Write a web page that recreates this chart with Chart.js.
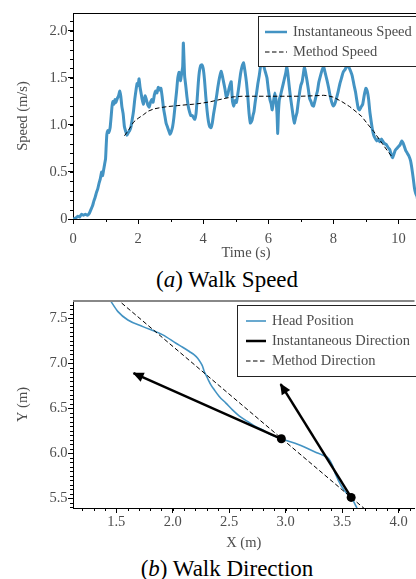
<!DOCTYPE html>
<html>
<head>
<meta charset="utf-8">
<script src="https://cdn.jsdelivr.net/npm/chart.js@4.4.1/dist/chart.umd.min.js"></script>
<style>
  html, body { margin: 0; padding: 0; background: #fff; }
  body { width: 416px; height: 579px; overflow: hidden; position: relative; font-family: "Liberation Serif", serif; }
  .panel { position: absolute; left: 0; width: 416px; height: 262px; overflow: hidden; }
  .caption { position: absolute; left: 0; width: 454px; text-align: center; font-size: 23px; line-height: 23px; color: #000; white-space: nowrap; }
</style>
</head>
<body>
<div class="panel" style="top:0"><canvas id="speedChart" width="419" height="262"></canvas></div>
<div class="caption" style="top:268px">(<i>a</i>) Walk Speed</div>
<div class="panel" style="top:290px"><canvas id="dirChart" width="419" height="262"></canvas></div>
<div class="caption" style="top:557px">(<i>b</i>) Walk Direction</div>
<script>
// (a) walk speed
const timeS = [0.00,0.08,0.15,0.20,0.26,0.32,0.38,0.44,0.50,0.55,0.60,0.64,0.68,0.72,0.76,0.80,0.84,0.88,0.91,0.94,
  0.97,1.00,1.02,1.04,1.07,1.10,1.14,1.17,1.20,1.23,1.26,1.29,1.32,1.36,1.40,1.44,1.47,1.50,1.54,1.58,
  1.62,1.66,1.70,1.74,1.78,1.82,1.86,1.90,1.94,1.97,2.00,2.03,2.06,2.09,2.12,2.16,2.19,2.22,2.26,2.30,
  2.34,2.38,2.42,2.46,2.50,2.54,2.58,2.62,2.66,2.70,2.74,2.78,2.82,2.86,2.90,2.94,2.98,3.02,3.06,3.10,
  3.14,3.18,3.22,3.26,3.30,3.34,3.37,3.39,3.41,3.43,3.47,3.50,3.54,3.58,3.62,3.66,3.70,3.74,3.78,3.82,
  3.85,3.88,3.92,3.96,4.00,4.04,4.08,4.12,4.16,4.20,4.24,4.28,4.32,4.36,4.40,4.45,4.50,4.55,4.59,4.63,
  4.67,4.71,4.75,4.79,4.82,4.86,4.90,4.94,4.98,5.02,5.06,5.10,5.15,5.20,5.24,5.28,5.33,5.37,5.41,5.45,
  5.50,5.53,5.56,5.60,5.64,5.68,5.72,5.76,5.80,5.84,5.88,5.92,5.96,6.00,6.05,6.09,6.12,6.16,6.20,6.24,
  6.27,6.29,6.31,6.34,6.38,6.42,6.46,6.50,6.54,6.57,6.60,6.64,6.68,6.72,6.76,6.80,6.84,6.88,6.92,6.96,
  7.00,7.04,7.08,7.11,7.15,7.19,7.23,7.27,7.31,7.35,7.39,7.43,7.47,7.51,7.55,7.60,7.65,7.70,7.75,7.80,
  7.85,7.90,7.95,8.00,8.05,8.10,8.15,8.20,8.25,8.30,8.36,8.42,8.48,8.53,8.58,8.63,8.68,8.72,8.76,8.80,
  8.85,8.90,8.95,9.00,9.04,9.08,9.12,9.16,9.20,9.24,9.28,9.33,9.38,9.43,9.48,9.53,9.58,9.63,9.68,9.73,
  9.78,9.82,9.86,9.90,9.95,10.00,10.05,10.10,10.14,10.18,10.22,10.27,10.32,10.37,10.41,10.45,10.49,10.53,10.57,10.61,
  10.65];
const speedMs = [0.00,0.01,0.03,0.02,0.05,0.04,0.05,0.04,0.06,0.10,0.14,0.19,0.23,0.28,0.32,0.38,0.43,0.50,0.46,0.52,
  0.58,0.64,0.78,0.90,0.94,0.92,0.97,1.08,1.20,1.25,1.22,1.27,1.24,1.28,1.31,1.36,1.30,1.20,1.12,0.98,
  0.93,0.89,0.92,0.94,0.98,1.06,1.15,1.28,1.38,1.44,1.42,1.49,1.40,1.34,1.28,1.22,1.27,1.31,1.26,1.21,
  1.19,1.24,1.27,1.24,1.32,1.36,1.34,1.40,1.37,1.39,1.30,1.18,1.10,1.02,0.98,0.94,0.90,0.93,0.98,1.08,
  1.22,1.35,1.50,1.56,1.47,1.55,1.62,1.87,1.70,1.52,1.40,1.30,1.20,1.14,1.10,1.10,1.08,1.06,1.12,1.30,
  1.45,1.56,1.63,1.64,1.60,1.48,1.30,1.15,1.04,0.98,0.97,1.02,1.12,1.20,1.28,1.40,1.50,1.57,1.52,1.45,
  1.38,1.30,1.32,1.38,1.42,1.46,1.25,1.20,1.26,1.24,1.32,1.42,1.55,1.63,1.66,1.58,1.45,1.30,1.12,1.02,
  1.05,1.10,1.14,1.25,1.34,1.44,1.52,1.62,1.69,1.66,1.60,1.55,1.50,1.38,1.27,1.22,1.16,1.25,1.34,1.25,
  1.10,0.91,1.12,1.27,1.32,1.38,1.44,1.50,1.56,1.62,1.55,1.42,1.30,1.20,1.10,1.02,1.08,1.13,1.24,1.34,
  1.42,1.46,1.55,1.62,1.55,1.47,1.38,1.28,1.25,1.21,1.20,1.25,1.31,1.36,1.45,1.52,1.58,1.62,1.55,1.48,
  1.40,1.31,1.24,1.20,1.23,1.29,1.36,1.44,1.50,1.56,1.59,1.63,1.61,1.57,1.52,1.43,1.35,1.26,1.18,1.16,
  1.19,1.22,1.32,1.39,1.36,1.28,1.14,1.04,0.95,0.89,0.86,0.83,0.85,0.82,0.85,0.82,0.80,0.79,0.76,0.74,
  0.68,0.65,0.69,0.73,0.75,0.77,0.79,0.83,0.81,0.77,0.73,0.70,0.67,0.62,0.54,0.44,0.33,0.27,0.24,0.14,
  0.08];
const methodTimeS = [1.58,1.70,1.86,2.00,2.17,2.30,2.48,2.70,2.90,3.20,3.50,3.70,3.93,4.20,4.45,4.70,4.96,5.20,
  5.50,6.00,6.50,7.00,7.40,7.70,7.84,8.00,8.25,8.50,8.70,8.87,9.05,9.24,9.49,9.65,9.78];
const methodSpeedMs = [0.885,0.94,1.03,1.07,1.11,1.145,1.17,1.185,1.195,1.205,1.215,1.22,1.23,1.245,1.265,1.285,1.30,1.305,
  1.305,1.305,1.305,1.305,1.31,1.315,1.31,1.295,1.25,1.195,1.14,1.09,1.01,0.93,0.807,0.73,0.67];
const timeTicks = [0, 2, 4, 6, 8, 10];
const speedTicks = [0, 0.5, 1.0, 1.5, 2.0];

// (b) walk direction
const headX = [1.45,1.515,1.603,1.735,1.912,2.029,2.088,2.147,2.191,2.221,2.25,2.265,2.279,2.294,2.315,2.338,2.368,2.412,
  2.471,2.529,2.588,2.662,2.72,2.794,2.853,2.962,3.118,3.265,3.33,3.383,3.415,3.44,3.495,3.55,3.58,3.632];
const headY = [7.693,7.574,7.481,7.407,7.315,7.222,7.178,7.13,7.093,7.056,7.0,6.963,6.907,6.87,6.815,6.759,6.704,6.63,
  6.556,6.481,6.415,6.352,6.304,6.259,6.215,6.159,6.093,6.01,5.975,5.935,5.86,5.77,5.63,5.54,5.507,5.389];
const methodDirX = [1.50, 3.70];
const methodDirY = [7.72, 5.379];
const arrowFromX = [2.962, 3.58];
const arrowFromY = [6.159, 5.507];
const arrowToX = [1.653, 2.956];
const arrowToY = [6.889, 6.767];
const posXTicks = [1.5, 2.0, 2.5, 3.0, 3.5, 4.0];
const posYTicks = [5.5, 6.0, 6.5, 7.0, 7.5];

const BLUE = '#4393c3';
const GREY = '#4d4d4d';
const FONT = { family: '"Liberation Serif", serif', size: 14.5 };

const pairs = (xs, ys) => xs.map((x, i) => ({ x: x, y: ys[i] }));

// top frame line (right side is cut off in the original)
const frame = {
  id: 'frame',
  afterDatasetsDraw(chart, args, o) {
    const { ctx, chartArea: a } = chart;
    ctx.save();
    ctx.strokeStyle = o.color;
    ctx.lineWidth = o.width;
    ctx.beginPath();
    ctx.moveTo(a.left, a.top + (o.width % 2 ? 0.5 : 0));
    ctx.lineTo(a.right, a.top + (o.width % 2 ? 0.5 : 0));
    ctx.stroke();
    ctx.restore();
  }
};

const minorTicks = {
  id: 'minorTicks',
  afterDraw(chart, args, o) {
    const { ctx, chartArea: a, scales } = chart;
    ctx.save();
    ctx.strokeStyle = '#000';
    ctx.lineWidth = 1;
    ctx.beginPath();
    const nx = Math.round((o.x.to - o.x.from) / o.x.step);
    for (let i = 0; i <= nx; i++) {
      const px = Math.round(scales.x.getPixelForValue(o.x.from + i * o.x.step)) + 0.5;
      if (px < a.left || px > a.right) continue;
      ctx.moveTo(px, a.bottom);
      ctx.lineTo(px, a.bottom + o.len);
    }
    const ny = Math.round((o.y.to - o.y.from) / o.y.step);
    for (let i = 0; i <= ny; i++) {
      const py = Math.round(scales.y.getPixelForValue(o.y.from + i * o.y.step)) + 0.5;
      if (py < a.top || py > a.bottom) continue;
      ctx.moveTo(a.left, py);
      ctx.lineTo(a.left - o.len, py);
    }
    ctx.stroke();
    ctx.restore();
  }
};

// matplotlib-like legend box in the upper right
const boxLegend = {
  id: 'boxLegend',
  afterDraw(chart, args, o) {
    const ctx = chart.ctx;
    ctx.save();
    ctx.fillStyle = '#fff';
    ctx.fillRect(o.left, o.top, o.width, o.height);
    ctx.strokeStyle = '#222';
    ctx.lineWidth = 1;
    ctx.strokeRect(o.left + 0.5, o.top + 0.5, o.width, o.height);
    ctx.font = FONT.size + 'px ' + FONT.family;
    ctx.textBaseline = 'middle';
    o.items.forEach((idx, i) => {
      const ds = chart.data.datasets[idx];
      const y = o.top + o.firstRow + i * o.rowGap;
      ctx.beginPath();
      ctx.setLineDash(ds.borderDash || []);
      ctx.strokeStyle = ds.borderColor;
      ctx.lineWidth = Math.min(ds.borderWidth, 2.5);
      ctx.moveTo(o.lineX0, y);
      ctx.lineTo(o.lineX1, y);
      ctx.stroke();
      ctx.setLineDash([]);
      ctx.fillStyle = GREY;
      ctx.fillText(ds.label, o.textX, y);
    });
    ctx.restore();
  }
};

const arrowHeads = {
  id: 'arrowHeads',
  afterDatasetsDraw(chart) {
    const ctx = chart.ctx;
    chart.data.datasets.forEach((ds, i) => {
      if (!ds.arrow) return;
      const pts = chart.getDatasetMeta(i).data;
      const a = pts[pts.length - 2], b = pts[pts.length - 1];
      const ang = Math.atan2(b.y - a.y, b.x - a.x);
      ctx.save();
      ctx.translate(b.x, b.y);
      ctx.rotate(ang);
      ctx.beginPath();
      ctx.moveTo(1, 0);
      ctx.lineTo(-10, 5);
      ctx.lineTo(-10, -5);
      ctx.closePath();
      ctx.fillStyle = ds.borderColor;
      ctx.fill();
      ctx.restore();
    });
  }
};

function axis(min, max, tickVals, fmt, pad, extra) {
  return Object.assign({
    type: 'linear',
    min: min,
    max: max,
    afterBuildTicks: s => { s.ticks = tickVals.map(v => ({ value: v })); },
    ticks: { color: GREY, font: FONT, autoSkip: false, maxRotation: 0, padding: pad, callback: fmt },
    grid: { display: true, drawOnChartArea: false, drawTicks: true, tickLength: 5, tickColor: '#000', tickWidth: 1 },
    border: { display: true, color: '#000', width: 1 }
  }, extra);
}

new Chart(document.getElementById('speedChart'), {
  type: 'scatter',
  data: {
    datasets: [
      { label: 'Method Speed', data: pairs(methodTimeS, methodSpeedMs), showLine: true,
        borderColor: '#000', borderWidth: 1, borderDash: [4.5, 2.5], pointRadius: 0 },
      { label: 'Instantaneous Speed', data: pairs(timeS, speedMs), showLine: true,
        borderColor: BLUE, borderWidth: 3, pointRadius: 0, tension: 0.15 }
    ]
  },
  options: {
    responsive: false, animation: false, events: [],
    layout: { padding: { top: 13, left: 14, right: 0, bottom: 0 } },
    plugins: {
      legend: { display: false }, tooltip: { enabled: false },
      frame: { color: '#000', width: 1 },
      minorTicks: { len: 3, x: { from: 0, to: 10, step: 1 }, y: { from: 0, to: 2.1, step: 0.1 } },
      boxLegend: { left: 258, top: 16, width: 180, height: 50, firstRow: 16, rowGap: 20, lineX0: 265, lineX1: 287, textX: 293, items: [1, 0] }
    },
    scales: {
      x: axis(0, 10.63, timeTicks, v => String(v), 6, {
        afterFit: s => { s.height = 43; },
        title: { display: true, text: 'Time (s)', color: GREY, font: FONT, padding: { top: 0, bottom: 0 } }
      }),
      y: axis(0, 2.19, speedTicks, v => (v === 0 ? '0' : v.toFixed(1)), 0.5, {
        afterFit: s => { s.width = 59; },
        title: { display: true, text: 'Speed (m/s)', color: GREY, font: FONT, padding: { top: 0, bottom: 0 } }
      })
    }
  },
  plugins: [frame, minorTicks, boxLegend]
});

new Chart(document.getElementById('dirChart'), {
  type: 'scatter',
  data: {
    datasets: [
      { label: 'Points', data: pairs(arrowFromX, arrowFromY), backgroundColor: '#000', borderColor: '#000', pointRadius: 4.5, pointBorderWidth: 0 },
      { label: 'Instantaneous Direction', data: pairs([arrowFromX[0], arrowToX[0]], [arrowFromY[0], arrowToY[0]]), showLine: true,
        borderColor: '#000', borderWidth: 2.5, pointRadius: 0, arrow: true },
      { label: 'Instantaneous Direction', data: pairs([arrowFromX[1], arrowToX[1]], [arrowFromY[1], arrowToY[1]]), showLine: true,
        borderColor: '#000', borderWidth: 2.5, pointRadius: 0, arrow: true },
      { label: 'Method Direction', data: pairs(methodDirX, methodDirY), showLine: true,
        borderColor: '#000', borderWidth: 1, borderDash: [4.5, 2.5], pointRadius: 0 },
      { label: 'Head Position', data: pairs(headX, headY), showLine: true,
        borderColor: BLUE, borderWidth: 1.6, pointRadius: 0, cubicInterpolationMode: 'monotone' }
    ]
  },
  options: {
    responsive: false, animation: false, events: [],
    layout: { padding: { top: 11, left: 14, right: 0, bottom: 0 } },
    plugins: {
      legend: { display: false }, tooltip: { enabled: false },
      frame: { color: '#888', width: 2 },
      minorTicks: { len: 3, x: { from: 1.2, to: 4.1, step: 0.1 }, y: { from: 5.4, to: 7.65, step: 0.05 } },
      boxLegend: { left: 237, top: 15, width: 200, height: 71, firstRow: 16, rowGap: 20, lineX0: 246, lineX1: 266, textX: 272, items: [4, 1, 3] }
    },
    scales: {
      x: axis(1.117, 4.141, posXTicks, v => v.toFixed(1), 0, {
        afterFit: s => { s.height = 44; },
        title: { display: true, text: 'X (m)', color: GREY, font: FONT, padding: { top: 0, bottom: 0 } }
      }),
      y: axis(5.389, 7.692, posYTicks, v => v.toFixed(1), 0.5, {
        afterFit: s => { s.width = 59; },
        title: { display: true, text: 'Y (m)', color: GREY, font: FONT, padding: { top: 0, bottom: 0 } }
      })
    }
  },
  plugins: [frame, minorTicks, arrowHeads, boxLegend]
});
</script>
</body>
</html>
